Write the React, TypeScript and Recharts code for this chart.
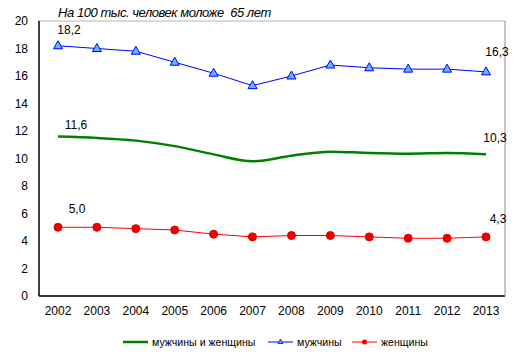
// Mortality chart — three series per 100k under 65, 2002–2013.
import { LineChart, Line, XAxis, YAxis, CartesianGrid } from 'recharts';

const years = ['2002', '2003', '2004', '2005', '2006', '2007', '2008', '2009', '2010', '2011', '2012', '2013'];
const total = [11.6, 11.5, 11.3, 10.9, 10.3, 9.8, 10.2, 10.5, 10.4, 10.35, 10.4, 10.3];
const men = [18.2, 18.0, 17.8, 17.0, 16.2, 15.3, 16.0, 16.8, 16.6, 16.5, 16.5, 16.3];
const women = [5.0, 5.0, 4.9, 4.8, 4.5, 4.3, 4.4, 4.4, 4.3, 4.2, 4.2, 4.3];
const yTicks = [0, 2, 4, 6, 8, 10, 12, 14, 16, 18, 20];

const data = years.map((y, i) => ({ year: y, total: total[i], men: men[i], women: women[i] }));

const FONT = '"Liberation Sans", Arial, sans-serif';
const fmt = (v: number) => v.toFixed(1).replace('.', ',');

// only first and last points get a value label
function endLabel(first: [number, number], last: [number, number]) {
  return (props: any) => {
    const { x, y, index, value } = props;
    if (index !== 0 && index !== years.length - 1) return null;
    const [dx, dy] = index === 0 ? first : last;
    return (
      <text x={x + dx} y={y + dy} textAnchor="middle" dominantBaseline="central"
            fontSize={12} fontFamily={FONT} fill="#000">
        {fmt(Number(value))}
      </text>
    );
  };
}

function Triangle(props: any) {
  const { cx, cy } = props;
  if (cx == null || cy == null) return null;
  return (
    <path d={`M${cx},${cy - 5} L${cx + 4.5},${cy + 3} L${cx - 4.5},${cy + 3} Z`}
          fill="#66b3ff" stroke="#0000ff" strokeWidth={1} />
  );
}

function Dot(props: any) {
  const { cx, cy } = props;
  if (cx == null || cy == null) return null;
  return <circle cx={cx} cy={cy} r={4} fill="#ee0000" stroke="#dd0000" strokeWidth={1} />;
}

function LegendItem({ left, color, label, marker }: { left: number; color: string; label: string; marker?: 'tri' | 'dot' }) {
  return (
    <div style={{ position: 'absolute', left, top: 336, display: 'flex', alignItems: 'center', fontSize: 10.6, whiteSpace: 'nowrap' }}>
      <svg width={25} height={12} style={{ marginRight: 4 }}>
        <line x1={0} y1={6} x2={25} y2={6} stroke={color} strokeWidth={marker ? 1 : 2.5} />
        {marker === 'tri' && <path d="M12.5,3 L15,7.5 L10,7.5 Z" fill="#66b3ff" stroke="#0000ff" strokeWidth={0.8} />}
        {marker === 'dot' && <circle cx={12.5} cy={6} r={2.5} fill="#ee0000" />}
      </svg>
      <span>{label}</span>
    </div>
  );
}

export default function App() {
  return (
    <div style={{ position: 'absolute', left: 0, top: 0, width: 519, height: 358, background: '#fff', fontFamily: FONT }}>
      <div style={{ position: 'absolute', left: 58, top: 5, fontSize: 13, fontStyle: 'italic', letterSpacing: -0.45, whiteSpace: 'pre' }}>
        {'На 100 тыс. человек моложе  65 лет'}
      </div>
      <LineChart width={519} height={358} data={data}
                 margin={{ top: 21, right: 0, bottom: 0, left: 0 }}>
        <CartesianGrid vertical={false} stroke="#b4b4b4" />
        <XAxis dataKey="year" padding={{ left: 19, right: 19 }} height={62}
               axisLine={{ stroke: '#000', strokeWidth: 1.5 }} tickLine={false} tickMargin={4}
               tick={{ fill: '#000', fontSize: 12, fontFamily: FONT }} interval={0} />
        <YAxis yAxisId="l" domain={[0, 20]} ticks={yTicks} width={39} interval={0}
               axisLine={{ stroke: '#000', strokeWidth: 1.5 }} tickLine={false} tickMargin={5}
               tick={{ fill: '#000', fontSize: 12, fontFamily: FONT }} />
        <YAxis yAxisId="r" orientation="right" domain={[0, 20]} width={14} tick={false}
               axisLine={{ stroke: '#8c8c8c' }} tickLine={false} />
        <Line yAxisId="l" dataKey="total" type="monotone" stroke="#008000" strokeWidth={2.5}
              dot={false} isAnimationActive={false} label={endLabel([18, -12], [9, -16])} />
        <Line yAxisId="l" dataKey="men" type="linear" stroke="#0000ff" strokeWidth={1}
              dot={<Triangle />} isAnimationActive={false} label={endLabel([11, -16], [11, -20])} />
        <Line yAxisId="l" dataKey="women" type="linear" stroke="#ff0000" strokeWidth={1}
              dot={<Dot />} isAnimationActive={false} label={endLabel([19, -18], [12, -18])} />
      </LineChart>
      <LegendItem left={123} color="#008000" label="мужчины и женщины" />
      <LegendItem left={268} color="#0000ff" label="мужчины" marker="tri" />
      <LegendItem left={352} color="#ff0000" label="женщины" marker="dot" />
    </div>
  );
}
